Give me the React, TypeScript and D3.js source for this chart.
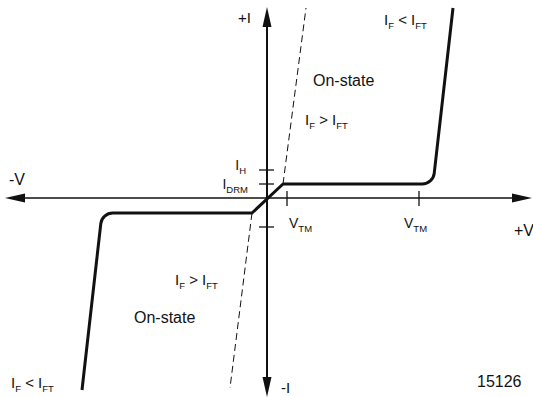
import React from "react";
import * as d3 from "d3";

// characteristic curve (V in arbitrary units, I in arbitrary units)
const curveV = [-18.5, -16.5, -1.5, 1.6, 16.6, 18.6];
const curveI = [-19.2, -1.5, -1.5, 1.4, 1.4, 19.0];
const roundedKnees = [1, 4];

// dashed on-state branches for I_F > I_FT
const dashUpV = [1.6, 3.9];
const dashUpI = [1.4, 19.0];
const dashLoV = [-1.5, -3.7];
const dashLoI = [-1.5, -19.0];

// ticks on the axes
const currentTicks = [2.8, 1.4, -2.9];
const voltageTicks = [2.0, 15.2];

const W = 533;
const H = 397;
const FONT = "'Liberation Sans', Arial, Helvetica, sans-serif";
const INK = "#111";

const x = d3.scaleLinear().domain([-26.2, 26.5]).range([5, 532]);
const y = d3.scaleLinear().domain([-19.9, 19.1]).range([397, 7]);

const Label = ({ px, py, parts, size = 15, subSize = 9.5, anchor = "start" }) => (
  <text x={px} y={py} fontFamily={FONT} fontSize={size} fill={INK} textAnchor={anchor}>
    {parts.map((p, i) =>
      p.sub ? (
        <tspan key={i} fontSize={subSize} dy={4}>
          {p.t}
        </tspan>
      ) : (
        <tspan key={i} dy={i > 0 && parts[i - 1].sub ? -4 : 0}>
          {p.t}
        </tspan>
      )
    )}
  </text>
);

const IfCmp = (op) => [
  { t: "I" },
  { t: "F", sub: true },
  { t: " " + op + " " },
  { t: "I" },
  { t: "FT", sub: true },
];

export default function App() {
  const x0 = x(0);
  const y0 = y(0);

  const pts = curveV.map((v, i) => [x(v), y(curveI[i])]);
  const p = d3.path();
  p.moveTo(pts[0][0], pts[0][1]);
  for (let i = 1; i < pts.length; i++) {
    if (roundedKnees.includes(i)) {
      p.arcTo(pts[i][0], pts[i][1], pts[i + 1][0], pts[i + 1][1], 12);
    } else {
      p.lineTo(pts[i][0], pts[i][1]);
    }
  }

  const line = d3
    .line()
    .x((d) => x(d[0]))
    .y((d) => y(d[1]));
  const dashUp = line(dashUpV.map((v, i) => [v, dashUpI[i]]));
  const dashLo = line(dashLoV.map((v, i) => [v, dashLoI[i]]));

  const ah = 4.5; // arrow half width
  const al = 20; // arrow length

  return (
    <svg width={W} height={H} style={{ position: "absolute", left: 0, top: 0, background: "#fff" }}>
      {/* horizontal axis */}
      <line x1={x.range()[0] + al} x2={x.range()[1] - al} y1={y0} y2={y0} stroke={INK} strokeWidth={1.3} />
      <path d={`M${x.range()[0]},${y0}L${x.range()[0] + al},${y0 - ah}L${x.range()[0] + al},${y0 + ah}Z`} fill={INK} />
      <path d={`M${x.range()[1]},${y0}L${x.range()[1] - al},${y0 - ah}L${x.range()[1] - al},${y0 + ah}Z`} fill={INK} />

      {/* vertical axis */}
      <line x1={x0} x2={x0} y1={y.range()[1] + al} y2={y.range()[0] - al} stroke={INK} strokeWidth={2} />
      <path d={`M${x0},${y.range()[1]}L${x0 - ah},${y.range()[1] + al}L${x0 + ah},${y.range()[1] + al}Z`} fill={INK} />
      <path d={`M${x0},${y.range()[0]}L${x0 - ah},${y.range()[0] - al}L${x0 + ah},${y.range()[0] - al}Z`} fill={INK} />

      {/* ticks */}
      {currentTicks.map((t) => (
        <line key={"c" + t} x1={x0 - 8} x2={x0 + 7} y1={y(t)} y2={y(t)} stroke={INK} strokeWidth={1.3} />
      ))}
      {voltageTicks.map((t) => (
        <line key={"v" + t} x1={x(t)} x2={x(t)} y1={y0 - 7} y2={y0 + 8} stroke={INK} strokeWidth={1.3} />
      ))}

      {/* dashed branches */}
      <path d={dashUp} fill="none" stroke={INK} strokeWidth={1} strokeDasharray="7,4" />
      <path d={dashLo} fill="none" stroke={INK} strokeWidth={1} strokeDasharray="7,4" />

      {/* main characteristic */}
      <path d={p.toString()} fill="none" stroke={INK} strokeWidth={3} strokeLinejoin="round" />

      {/* axis labels */}
      <text x={238} y={23} fontFamily={FONT} fontSize={15} fill={INK}>+I</text>
      <text x={281} y={393} fontFamily={FONT} fontSize={15} fill={INK}>-I</text>
      <text x={9} y={185} fontFamily={FONT} fontSize={16} fill={INK}>-V</text>
      <text x={514} y={236} fontFamily={FONT} fontSize={16} fill={INK}>+V</text>
      <text x={477} y={387} fontFamily={FONT} fontSize={16} fill={INK}>15126</text>

      {/* tick labels */}
      <Label px={x0 - 21} py={y(currentTicks[0]) + 0} parts={[{ t: "I" }, { t: "H", sub: true }]} size={14} anchor="end" />
      <Label px={x0 - 19} py={y(currentTicks[1]) + 5} parts={[{ t: "I" }, { t: "DRM", sub: true }]} size={14} anchor="end" />
      <Label px={x(voltageTicks[0]) + 2} py={y0 + 30} parts={[{ t: "V" }, { t: "TM", sub: true }]} size={14} />
      <Label px={x(voltageTicks[1]) - 15} py={y0 + 30} parts={[{ t: "V" }, { t: "TM", sub: true }]} size={14} />

      {/* region notes */}
      <text x={313} y={86} fontFamily={FONT} fontSize={16} fill={INK}>On-state</text>
      <Label px={305} py={125} parts={IfCmp(">")} />
      <Label px={384} py={25} parts={IfCmp("<")} />
      <text x={134} y={323} fontFamily={FONT} fontSize={16} fill={INK}>On-state</text>
      <Label px={175} py={285} parts={IfCmp(">")} />
      <Label px={11} py={388} parts={IfCmp("<")} />
    </svg>
  );
}
